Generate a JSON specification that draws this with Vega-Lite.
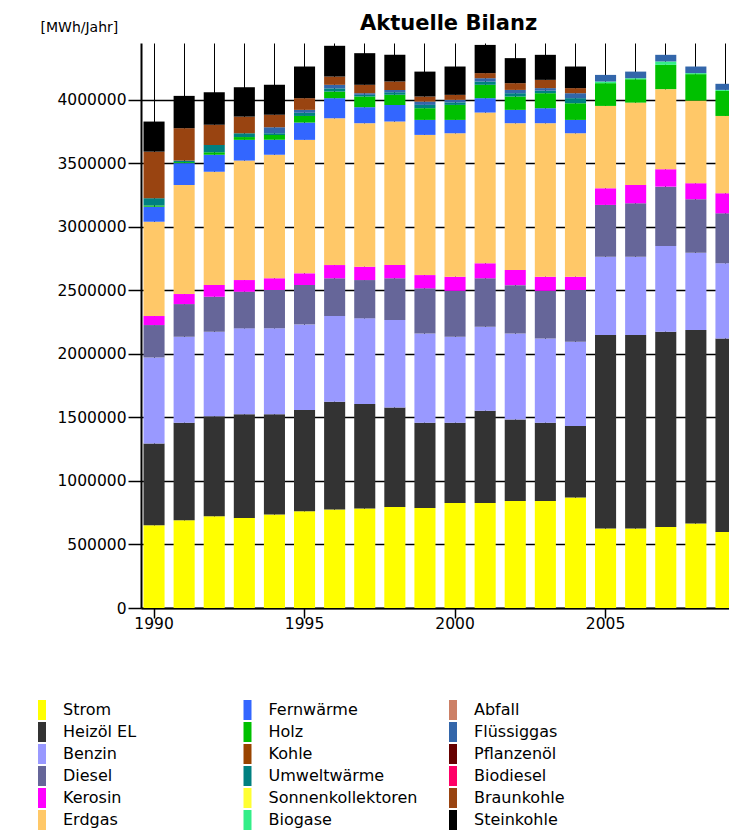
{
  "$schema": "https://vega.github.io/schema/vega-lite/v6.json",
  "autosize": {"type": "none"},
  "padding": {"left": 141, "top": 43, "right": 0, "bottom": 226},
  "width": 588,
  "height": 565,
  "background": "white",
  "config": {
    "view": {"stroke": null},
    "font": "DejaVu Sans",
    "axis": {"labelFont": "DejaVu Sans", "titleFont": "DejaVu Sans", "labelColor": "black", "titleColor": "black"},
    "legend": {"labelFont": "DejaVu Sans"}
  },
  "title": {"text": "Aktuelle Bilanz", "anchor": "start", "frame": "group", "dx": 219, "dy": 44, "offset": 13, "baseline": "alphabetic", "fontSize": 21, "font": "DejaVu Sans", "fontWeight": "bold", "color": "black"},
  "data": {"values": [
    {"year":1990,"fuel":"Strom","mwh":651000},{"year":1990,"fuel":"Heizöl EL","mwh":643000},{"year":1990,"fuel":"Benzin","mwh":677000},{"year":1990,"fuel":"Diesel","mwh":255000},{"year":1990,"fuel":"Kerosin","mwh":71000},{"year":1990,"fuel":"Erdgas","mwh":742000},{"year":1990,"fuel":"Fernwärme","mwh":118000},{"year":1990,"fuel":"Holz","mwh":10000},{"year":1990,"fuel":"Umweltwärme","mwh":57000},{"year":1990,"fuel":"Braunkohle","mwh":366000},{"year":1990,"fuel":"Steinkohle","mwh":237000},
    {"year":1991,"fuel":"Strom","mwh":690000},{"year":1991,"fuel":"Heizöl EL","mwh":767000},{"year":1991,"fuel":"Benzin","mwh":677000},{"year":1991,"fuel":"Diesel","mwh":257000},{"year":1991,"fuel":"Kerosin","mwh":79000},{"year":1991,"fuel":"Erdgas","mwh":858000},{"year":1991,"fuel":"Fernwärme","mwh":172000},{"year":1991,"fuel":"Holz","mwh":8000},{"year":1991,"fuel":"Umweltwärme","mwh":12000},{"year":1991,"fuel":"Braunkohle","mwh":255000},{"year":1991,"fuel":"Steinkohle","mwh":254000},
    {"year":1992,"fuel":"Strom","mwh":722000},{"year":1992,"fuel":"Heizöl EL","mwh":787000},{"year":1992,"fuel":"Benzin","mwh":664000},{"year":1992,"fuel":"Diesel","mwh":276000},{"year":1992,"fuel":"Kerosin","mwh":92000},{"year":1992,"fuel":"Erdgas","mwh":892000},{"year":1992,"fuel":"Fernwärme","mwh":132000},{"year":1992,"fuel":"Holz","mwh":20000},{"year":1992,"fuel":"Umweltwärme","mwh":58000},{"year":1992,"fuel":"Braunkohle","mwh":158000},{"year":1992,"fuel":"Steinkohle","mwh":257000},
    {"year":1993,"fuel":"Strom","mwh":709000},{"year":1993,"fuel":"Heizöl EL","mwh":816000},{"year":1993,"fuel":"Benzin","mwh":675000},{"year":1993,"fuel":"Diesel","mwh":288000},{"year":1993,"fuel":"Kerosin","mwh":92000},{"year":1993,"fuel":"Erdgas","mwh":940000},{"year":1993,"fuel":"Fernwärme","mwh":163000},{"year":1993,"fuel":"Holz","mwh":22000},{"year":1993,"fuel":"Umweltwärme","mwh":30000},{"year":1993,"fuel":"Braunkohle","mwh":131000},{"year":1993,"fuel":"Steinkohle","mwh":231000},
    {"year":1994,"fuel":"Strom","mwh":735000},{"year":1994,"fuel":"Heizöl EL","mwh":790000},{"year":1994,"fuel":"Benzin","mwh":675000},{"year":1994,"fuel":"Diesel","mwh":302000},{"year":1994,"fuel":"Kerosin","mwh":92000},{"year":1994,"fuel":"Erdgas","mwh":971000},{"year":1994,"fuel":"Fernwärme","mwh":118000},{"year":1994,"fuel":"Holz","mwh":39000},{"year":1994,"fuel":"Umweltwärme","mwh":13000},{"year":1994,"fuel":"Flüssiggas","mwh":47000},{"year":1994,"fuel":"Braunkohle","mwh":98000},{"year":1994,"fuel":"Steinkohle","mwh":236000},
    {"year":1995,"fuel":"Strom","mwh":761000},{"year":1995,"fuel":"Heizöl EL","mwh":796000},{"year":1995,"fuel":"Benzin","mwh":674000},{"year":1995,"fuel":"Diesel","mwh":310000},{"year":1995,"fuel":"Kerosin","mwh":92000},{"year":1995,"fuel":"Erdgas","mwh":1050000},{"year":1995,"fuel":"Fernwärme","mwh":136000},{"year":1995,"fuel":"Holz","mwh":52000},{"year":1995,"fuel":"Umweltwärme","mwh":25000},{"year":1995,"fuel":"Flüssiggas","mwh":23000},{"year":1995,"fuel":"Braunkohle","mwh":92000},{"year":1995,"fuel":"Steinkohle","mwh":249000},
    {"year":1996,"fuel":"Strom","mwh":775000},{"year":1996,"fuel":"Heizöl EL","mwh":847000},{"year":1996,"fuel":"Benzin","mwh":675000},{"year":1996,"fuel":"Diesel","mwh":297000},{"year":1996,"fuel":"Kerosin","mwh":104000},{"year":1996,"fuel":"Erdgas","mwh":1155000},{"year":1996,"fuel":"Fernwärme","mwh":158000},{"year":1996,"fuel":"Holz","mwh":52000},{"year":1996,"fuel":"Umweltwärme","mwh":25000},{"year":1996,"fuel":"Flüssiggas","mwh":28000},{"year":1996,"fuel":"Braunkohle","mwh":65000},{"year":1996,"fuel":"Steinkohle","mwh":242000},
    {"year":1997,"fuel":"Strom","mwh":783000},{"year":1997,"fuel":"Heizöl EL","mwh":821000},{"year":1997,"fuel":"Benzin","mwh":675000},{"year":1997,"fuel":"Diesel","mwh":301000},{"year":1997,"fuel":"Kerosin","mwh":105000},{"year":1997,"fuel":"Erdgas","mwh":1129000},{"year":1997,"fuel":"Fernwärme","mwh":126000},{"year":1997,"fuel":"Holz","mwh":84000},{"year":1997,"fuel":"Umweltwärme","mwh":13000},{"year":1997,"fuel":"Flüssiggas","mwh":13000},{"year":1997,"fuel":"Braunkohle","mwh":66000},{"year":1997,"fuel":"Steinkohle","mwh":249000},
    {"year":1998,"fuel":"Strom","mwh":795000},{"year":1998,"fuel":"Heizöl EL","mwh":783000},{"year":1998,"fuel":"Benzin","mwh":687000},{"year":1998,"fuel":"Diesel","mwh":329000},{"year":1998,"fuel":"Kerosin","mwh":104000},{"year":1998,"fuel":"Erdgas","mwh":1129000},{"year":1998,"fuel":"Fernwärme","mwh":131000},{"year":1998,"fuel":"Holz","mwh":79000},{"year":1998,"fuel":"Umweltwärme","mwh":20000},{"year":1998,"fuel":"Flüssiggas","mwh":19000},{"year":1998,"fuel":"Braunkohle","mwh":66000},{"year":1998,"fuel":"Steinkohle","mwh":210000},
    {"year":1999,"fuel":"Strom","mwh":787000},{"year":1999,"fuel":"Heizöl EL","mwh":670000},{"year":1999,"fuel":"Benzin","mwh":703000},{"year":1999,"fuel":"Diesel","mwh":355000},{"year":1999,"fuel":"Kerosin","mwh":104000},{"year":1999,"fuel":"Erdgas","mwh":1103000},{"year":1999,"fuel":"Fernwärme","mwh":118000},{"year":1999,"fuel":"Holz","mwh":92000},{"year":1999,"fuel":"Umweltwärme","mwh":26000},{"year":1999,"fuel":"Flüssiggas","mwh":26000},{"year":1999,"fuel":"Braunkohle","mwh":40000},{"year":1999,"fuel":"Steinkohle","mwh":196000},
    {"year":2000,"fuel":"Strom","mwh":827000},{"year":2000,"fuel":"Heizöl EL","mwh":630000},{"year":2000,"fuel":"Benzin","mwh":677000},{"year":2000,"fuel":"Diesel","mwh":361000},{"year":2000,"fuel":"Kerosin","mwh":111000},{"year":2000,"fuel":"Erdgas","mwh":1129000},{"year":2000,"fuel":"Fernwärme","mwh":105000},{"year":2000,"fuel":"Holz","mwh":118000},{"year":2000,"fuel":"Umweltwärme","mwh":20000},{"year":2000,"fuel":"Flüssiggas","mwh":20000},{"year":2000,"fuel":"Braunkohle","mwh":39000},{"year":2000,"fuel":"Steinkohle","mwh":223000},
    {"year":2001,"fuel":"Strom","mwh":827000},{"year":2001,"fuel":"Heizöl EL","mwh":724000},{"year":2001,"fuel":"Benzin","mwh":662000},{"year":2001,"fuel":"Diesel","mwh":381000},{"year":2001,"fuel":"Kerosin","mwh":118000},{"year":2001,"fuel":"Erdgas","mwh":1186000},{"year":2001,"fuel":"Fernwärme","mwh":113000},{"year":2001,"fuel":"Holz","mwh":105000},{"year":2001,"fuel":"Umweltwärme","mwh":26000},{"year":2001,"fuel":"Flüssiggas","mwh":26000},{"year":2001,"fuel":"Braunkohle","mwh":40000},{"year":2001,"fuel":"Steinkohle","mwh":222000},
    {"year":2002,"fuel":"Strom","mwh":842000},{"year":2002,"fuel":"Heizöl EL","mwh":641000},{"year":2002,"fuel":"Benzin","mwh":677000},{"year":2002,"fuel":"Diesel","mwh":380000},{"year":2002,"fuel":"Kerosin","mwh":119000},{"year":2002,"fuel":"Erdgas","mwh":1155000},{"year":2002,"fuel":"Fernwärme","mwh":105000},{"year":2002,"fuel":"Holz","mwh":105000},{"year":2002,"fuel":"Umweltwärme","mwh":26000},{"year":2002,"fuel":"Flüssiggas","mwh":26000},{"year":2002,"fuel":"Braunkohle","mwh":53000},{"year":2002,"fuel":"Steinkohle","mwh":197000},
    {"year":2003,"fuel":"Strom","mwh":842000},{"year":2003,"fuel":"Heizöl EL","mwh":615000},{"year":2003,"fuel":"Benzin","mwh":664000},{"year":2003,"fuel":"Diesel","mwh":374000},{"year":2003,"fuel":"Kerosin","mwh":111000},{"year":2003,"fuel":"Erdgas","mwh":1208000},{"year":2003,"fuel":"Fernwärme","mwh":118000},{"year":2003,"fuel":"Holz","mwh":118000},{"year":2003,"fuel":"Umweltwärme","mwh":20000},{"year":2003,"fuel":"Flüssiggas","mwh":20000},{"year":2003,"fuel":"Braunkohle","mwh":65000},{"year":2003,"fuel":"Steinkohle","mwh":197000},
    {"year":2004,"fuel":"Strom","mwh":869000},{"year":2004,"fuel":"Heizöl EL","mwh":562000},{"year":2004,"fuel":"Benzin","mwh":664000},{"year":2004,"fuel":"Diesel","mwh":407000},{"year":2004,"fuel":"Kerosin","mwh":104000},{"year":2004,"fuel":"Erdgas","mwh":1129000},{"year":2004,"fuel":"Fernwärme","mwh":105000},{"year":2004,"fuel":"Holz","mwh":131000},{"year":2004,"fuel":"Umweltwärme","mwh":40000},{"year":2004,"fuel":"Flüssiggas","mwh":39000},{"year":2004,"fuel":"Braunkohle","mwh":40000},{"year":2004,"fuel":"Steinkohle","mwh":170000},
    {"year":2005,"fuel":"Strom","mwh":625000},{"year":2005,"fuel":"Heizöl EL","mwh":1522000},{"year":2005,"fuel":"Benzin","mwh":617000},{"year":2005,"fuel":"Diesel","mwh":407000},{"year":2005,"fuel":"Kerosin","mwh":131000},{"year":2005,"fuel":"Erdgas","mwh":648000},{"year":2005,"fuel":"Holz","mwh":179000},{"year":2005,"fuel":"Biogase","mwh":13000},{"year":2005,"fuel":"Flüssiggas","mwh":52000},
    {"year":2006,"fuel":"Strom","mwh":625000},{"year":2006,"fuel":"Heizöl EL","mwh":1522000},{"year":2006,"fuel":"Benzin","mwh":617000},{"year":2006,"fuel":"Diesel","mwh":420000},{"year":2006,"fuel":"Kerosin","mwh":144000},{"year":2006,"fuel":"Erdgas","mwh":648000},{"year":2006,"fuel":"Holz","mwh":184000},{"year":2006,"fuel":"Biogase","mwh":8000},{"year":2006,"fuel":"Flüssiggas","mwh":52000},
    {"year":2007,"fuel":"Strom","mwh":638000},{"year":2007,"fuel":"Heizöl EL","mwh":1535000},{"year":2007,"fuel":"Benzin","mwh":675000},{"year":2007,"fuel":"Diesel","mwh":467000},{"year":2007,"fuel":"Kerosin","mwh":137000},{"year":2007,"fuel":"Erdgas","mwh":630000},{"year":2007,"fuel":"Holz","mwh":191000},{"year":2007,"fuel":"Biogase","mwh":27000},{"year":2007,"fuel":"Flüssiggas","mwh":52000},
    {"year":2008,"fuel":"Strom","mwh":665000},{"year":2008,"fuel":"Heizöl EL","mwh":1522000},{"year":2008,"fuel":"Benzin","mwh":608000},{"year":2008,"fuel":"Diesel","mwh":421000},{"year":2008,"fuel":"Kerosin","mwh":126000},{"year":2008,"fuel":"Erdgas","mwh":650000},{"year":2008,"fuel":"Holz","mwh":208000},{"year":2008,"fuel":"Biogase","mwh":8000},{"year":2008,"fuel":"Flüssiggas","mwh":52000},
    {"year":2009,"fuel":"Strom","mwh":598000},{"year":2009,"fuel":"Heizöl EL","mwh":1523000},{"year":2009,"fuel":"Benzin","mwh":591000},{"year":2009,"fuel":"Diesel","mwh":393000},{"year":2009,"fuel":"Kerosin","mwh":158000},{"year":2009,"fuel":"Erdgas","mwh":608000},{"year":2009,"fuel":"Holz","mwh":197000},{"year":2009,"fuel":"Biogase","mwh":8000},{"year":2009,"fuel":"Flüssiggas","mwh":48000}
  ]},
  "transform": [
    {"calculate": "indexof(['Strom','Heizöl EL','Benzin','Diesel','Kerosin','Erdgas','Fernwärme','Holz','Kohle','Umweltwärme','Sonnenkollektoren','Biogase','Abfall','Flüssiggas','Pflanzenöl','Biodiesel','Braunkohle','Steinkohle'], datum.fuel)", "as": "stackOrder"}
  ],
  "mark": {"type": "bar", "strokeWidth": 0},
  "encoding": {
    "x": {
      "field": "year", "type": "ordinal",
      "scale": {"range": [0, 598], "paddingInner": 0.3, "paddingOuter": 0.083},
      "axis": {
        "title": null, "labelAngle": 0, "bandPosition": 0.5,
        "grid": true, "gridColor": "black", "gridWidth": 1, "gridOpacity": 1,
        "domainColor": "black", "domainWidth": 2,
        "tickColor": "black", "tickWidth": 1.5, "tickSize": 10,
        "tickOpacity": {"condition": {"test": "datum.value % 5 === 0", "value": 1}, "value": 0},
        "labelExpr": "datum.value % 5 === 0 ? datum.label : ''",
        "labelFontSize": 15.5, "labelPadding": -2, "labelFont": "DejaVu Sans"
      }
    },
    "y": {
      "field": "mwh", "type": "quantitative", "stack": "zero",
      "scale": {"domain": [0, 4445000], "nice": false},
      "axis": {
        "values": [0, 500000, 1000000, 1500000, 2000000, 2500000, 3000000, 3500000, 4000000],
        "format": "d",
        "grid": true, "gridColor": "black", "gridWidth": 1.5, "gridOpacity": 1,
        "domainColor": "black", "domainWidth": 2,
        "tickColor": "black", "tickWidth": 1.5, "tickSize": 13,
        "labelFontSize": 15.5, "labelPadding": 2,
        "title": "[MWh/Jahr]", "titleAngle": 0, "titleAlign": "left", "titleBaseline": "alphabetic",
        "titleX": -101, "titleY": -12, "titleFontSize": 14, "titleFontWeight": "normal"
      }
    },
    "color": {
      "field": "fuel", "type": "nominal",
      "scale": {
        "domain": ["Strom","Heizöl EL","Benzin","Diesel","Kerosin","Erdgas","Fernwärme","Holz","Kohle","Umweltwärme","Sonnenkollektoren","Biogase","Abfall","Flüssiggas","Pflanzenöl","Biodiesel","Braunkohle","Steinkohle"],
        "range": ["#ffff00","#333333","#9999ff","#666699","#ff00ff","#ffc868","#3366ff","#00c000","#994400","#008080","#ffff33","#33ee88","#cc8066","#3366aa","#660000","#ff0066","#994411","#000000"]
      },
      "legend": {
        "title": null, "orient": "none", "legendX": -109, "legendY": 657,
        "columns": 3, "gridAlign": "all", "columnPadding": 25.5, "rowPadding": 2,
        "symbolType": "M-0.4,-1H0.4V1H-0.4Z", "symbolSize": 400, "symbolStrokeWidth": 0, "symbolOpacity": 1,
        "labelFontSize": 16, "labelOffset": 11, "labelLimit": 300, "labelColor": "black", "padding": 0
      }
    },
    "order": {"field": "stackOrder", "type": "quantitative", "sort": "ascending"}
  }
}
